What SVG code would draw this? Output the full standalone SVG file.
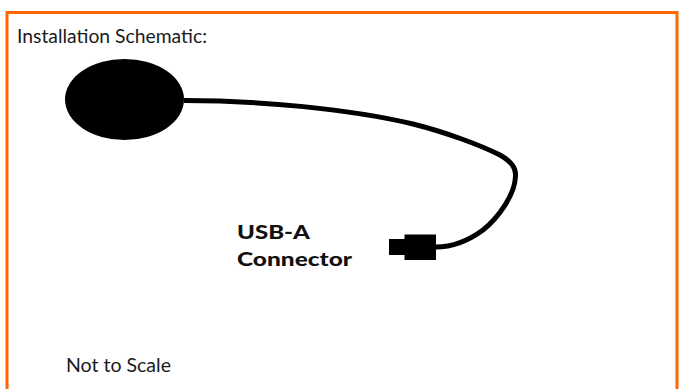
<svg xmlns="http://www.w3.org/2000/svg" width="679" height="389" viewBox="0 0 679 389">
<style>
.t{font-family:"Lato","Open Sans",sans-serif;font-size:19.500px;fill:#1a1a1a}
.b{font-family:"Lato","Open Sans",sans-serif;font-size:18.500px;font-weight:900;fill:#111}
.k{fill:#000}
</style>
<rect width="679" height="389" fill="#fff"/>
<path d="M7 389V12.500H677V389" fill="none" stroke="#ff6600" stroke-width="3"/>
<text class="t" x="17" y="43" textLength="190" lengthAdjust="spacingAndGlyphs">Installation Schematic:</text>
<g id="connectors"><path d="M184 100.500C260 100.500 350 109 413 124C445 132 480 145 500 155C512 162 516 168 515.500 176C515 195 498 218 483 230C468 241 452 247 436 247" fill="none" stroke="#000" stroke-width="5"/></g>
<g id="sensor"><ellipse class="k" cx="124.500" cy="99.500" rx="59.500" ry="40.500"/></g>
<g id="usb-plug"><rect class="k" x="389" y="239" width="16" height="16"/><rect class="k" x="404.500" y="234.500" width="31.500" height="25.500"/></g>
<g id="usb-label"><text class="b" x="237" y="239" textLength="73" lengthAdjust="spacingAndGlyphs">USB-A</text><text class="b" x="237" y="266" textLength="115" lengthAdjust="spacingAndGlyphs">Connector</text></g>
<text class="t" x="66" y="372" textLength="105" lengthAdjust="spacingAndGlyphs">Not to Scale</text>
</svg>
